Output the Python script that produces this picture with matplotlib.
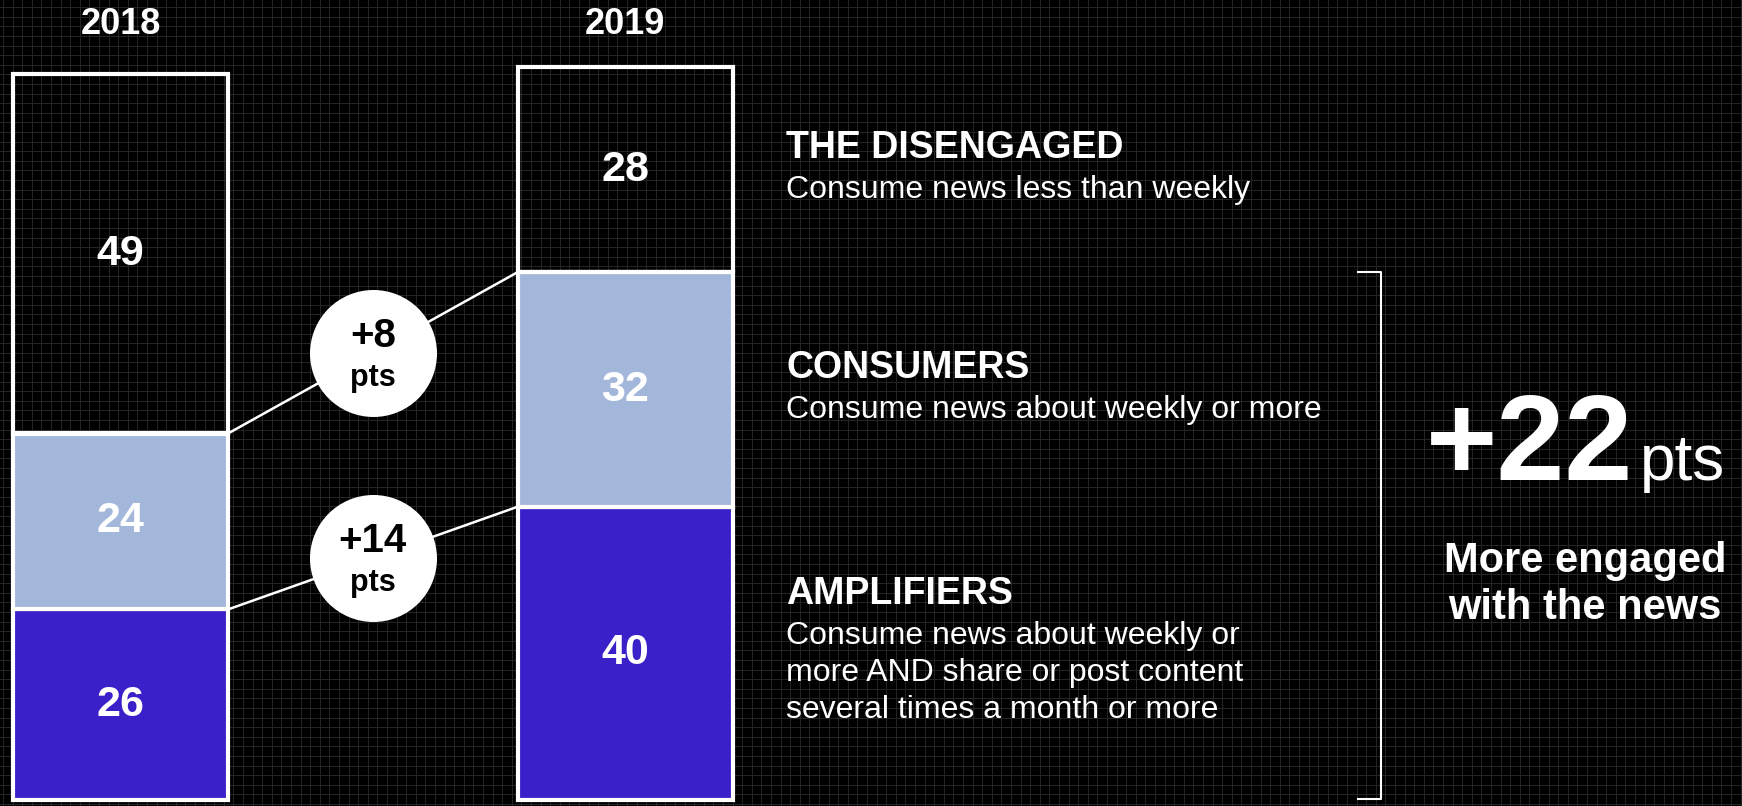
import numpy as np
import matplotlib.pyplot as plt

plt.rcParams['font.family'] = ['Liberation Sans', 'DejaVu Sans']

# data
years = ['2018', '2019']
amplifiers = [26, 40]
consumers = [24, 32]
disengaged = [49, 28]
group_names = ['AMPLIFIERS', 'CONSUMERS', 'THE DISENGAGED']
group_desc = [
    ['Consume news about weekly or', 'more AND share or post content', 'several times a month or more'],
    ['Consume news about weekly or more'],
    ['Consume news less than weekly'],
]
summary_lines = ['More engaged', 'with the news']

W, H = 1742, 806
DARK_BLUE = '#3920C8'
LIGHT_BLUE = '#A3B7DA'

fig = plt.figure(figsize=(W / 100, H / 100), dpi=100, facecolor='black')

# background grid in pixel coords
bg = fig.add_axes([0, 0, 1, 1])
bg.set_xlim(0, W)
bg.set_ylim(0, H)
bg.set_facecolor('black')
bg.set_xticks(np.arange(3, W, 9.6))
bg.set_yticks(np.arange(2, H, 9.6))
bg.grid(color='#262626', lw=0.7)
bg.tick_params(length=0, labelbottom=False, labelleft=False)
for s in bg.spines.values():
    s.set_visible(False)

# bar axes: 100 pts = 733 px, y=0 at 800 px from top
px_per_unit = 504.5
x0_px = 120.5
ax = fig.add_axes([0, (H - 800) / H, 1, 733 / H])
ax.set_xlim(-x0_px / px_per_unit, (W - x0_px) / px_per_unit)
ax.set_ylim(0, 100)
ax.axis('off')
ax.patch.set_alpha(0)

def px_x(px):
    return (px - x0_px) / px_per_unit

x = np.arange(len(years))
width = 215 / px_per_unit
series = [amplifiers, consumers, disengaged]
colors = [DARK_BLUE, LIGHT_BLUE, 'none']
bottom = np.zeros(len(years))
for vals, col in zip(series, colors):
    ax.bar(x, vals, width, bottom=bottom, color=col, edgecolor='white', lw=3, zorder=3, clip_on=False)
    for xi, b, v in zip(x, bottom, vals):
        ax.text(xi, b + v / 2, str(v), ha='center', va='center', color='white',
                fontsize=31, fontweight='bold', zorder=5)
    bottom = bottom + np.array(vals)

for xi, yr in zip(x, years):
    ax.text(xi, 100 + 42.5 / 7.33, yr, ha='center', va='center', color='white',
            fontsize=26, fontweight='bold')

# connectors with change bubbles
tops_amp = np.array(amplifiers)
tops_con = tops_amp + np.array(consumers)
diffs = [consumers[1] - consumers[0], amplifiers[1] - amplifiers[0]]
for tops, diff in zip([tops_con, tops_amp], diffs):
    xa, xb = x[0] + width / 2, x[1] - width / 2
    ax.plot([xa, xb], [tops[0], tops[1]], color='white', lw=1.8, zorder=2)
    mx, my = (xa + xb) / 2, (tops[0] + tops[1]) / 2
    ax.scatter([mx], [my], s=(127 * 0.72) ** 2, color='white', zorder=4, lw=0)
    ax.annotate(f'+{diff}', (mx, my), xytext=(0, 17), textcoords='offset pixels',
                ha='center', va='center', color='black', fontsize=29, fontweight='bold', zorder=6)
    ax.annotate('pts', (mx, my), xytext=(0, -25), textcoords='offset pixels',
                ha='center', va='center', color='black', fontsize=22, fontweight='bold', zorder=6)

# group labels on the right
lab_x = px_x(786)
bottom = 0
for name, desc, vals in zip(group_names, group_desc, series):
    yc = bottom + vals[1] / 2
    shift = (len(desc) - 1) * 18.5
    ax.annotate(name, (lab_x, yc), xytext=(0, 12 + shift), textcoords='offset pixels',
                ha='left', va='baseline', color='white', fontsize=27, fontweight='bold')
    for i, line in enumerate(desc):
        ax.annotate(line, (lab_x, yc), xytext=(0, -28 + shift - 37 * i), textcoords='offset pixels',
                    ha='left', va='baseline', color='white', fontsize=23)
    bottom += vals[1]

# bracket over engaged groups of 2019
br_top = amplifiers[1] + consumers[1]
ax.plot([px_x(1358), px_x(1381), px_x(1381), px_x(1358)], [br_top, br_top, 0.2, 0.2],
        color='white', lw=1.5, clip_on=False)

total = (consumers[1] + amplifiers[1]) - (consumers[0] + amplifiers[0])
bg.text(1426, H - 480, f'+{total}', ha='left', va='baseline', color='white',
        fontsize=88, fontweight='bold')
bg.text(1640, H - 480, 'pts', ha='left', va='baseline', color='white', fontsize=46)
for line, base in zip(summary_lines, [572, 619]):
    bg.text(1585, H - base, line, ha='center', va='baseline', color='white',
            fontsize=30, fontweight='bold')

fig.savefig('out.png', dpi=100, facecolor='black')
